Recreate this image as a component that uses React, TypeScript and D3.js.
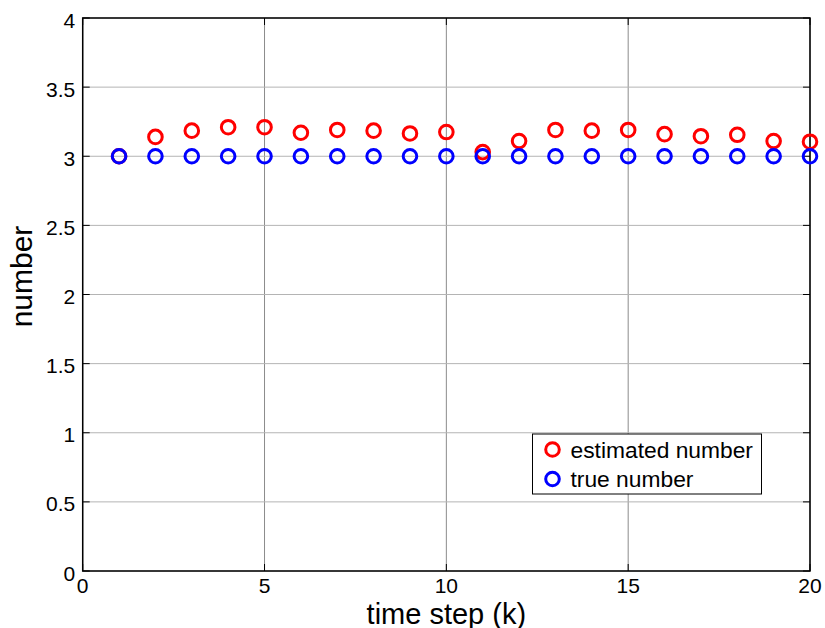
import React from "react";
import * as d3 from "d3";

const steps: number[] = [1, 2, 3, 4, 5, 6, 7, 8, 9, 10, 11, 12, 13, 14, 15, 16, 17, 18, 19, 20];
const estimated: number[] = [3.0, 3.14, 3.185, 3.21, 3.21, 3.17, 3.19, 3.185, 3.165, 3.175, 3.03, 3.11, 3.19, 3.185, 3.19, 3.16, 3.145, 3.155, 3.11, 3.105];
const trueNum: number[] = [3, 3, 3, 3, 3, 3, 3, 3, 3, 3, 3, 3, 3, 3, 3, 3, 3, 3, 3, 3];
const xTicks: number[] = [0, 5, 10, 15, 20];
const yTicks: number[] = [0, 0.5, 1, 1.5, 2, 2.5, 3, 3.5, 4];
const legendLabels: string[] = ["estimated number", "true number"];

const W = 825, H = 628;
const L = 82.7, R = 810, T = 18, B = 571;
const FONT = "'Liberation Sans', Arial, Helvetica, sans-serif";

export default function App() {
  const x = d3.scaleLinear().domain([0, 20]).range([L, R]);
  const y = d3.scaleLinear().domain([0, 4]).range([B, T]);
  const rad = 6.8, sw = 3;
  const tickLen = 7;
  return (
    <svg width={W} height={H} style={{ position: "absolute", left: 0, top: 0, background: "#fff" }} fontFamily={FONT}>
      <rect x={0} y={0} width={W} height={H} fill="#fff" />
      {/* grid */}
      {xTicks.map((t) => (
        <line key={"gx" + t} x1={x(t)} x2={x(t)} y1={T} y2={B} stroke="#8c8c8c" strokeWidth={1} />
      ))}
      {yTicks.map((t) => (
        <line key={"gy" + t} x1={L} x2={R} y1={y(t)} y2={y(t)} stroke="#b4b4b4" strokeWidth={1} />
      ))}
      {/* ticks */}
      {xTicks.map((t) => (
        <g key={"tx" + t}>
          <line x1={x(t)} x2={x(t)} y1={B} y2={B - tickLen} stroke="#000" strokeWidth={1} />
          <line x1={x(t)} x2={x(t)} y1={T} y2={T + tickLen} stroke="#000" strokeWidth={1} />
          <text x={x(t)} y={B + 21.5} fontSize={21} textAnchor="middle">{t}</text>
        </g>
      ))}
      {yTicks.map((t) => (
        <g key={"ty" + t}>
          <line x1={L} x2={L + tickLen} y1={y(t)} y2={y(t)} stroke="#000" strokeWidth={1} />
          <line x1={R} x2={R - tickLen} y1={y(t)} y2={y(t)} stroke="#000" strokeWidth={1} />
          <text x={L - 7.5} y={y(t) + 9.5} fontSize={21} textAnchor="end">{t}</text>
        </g>
      ))}
      {/* box */}
      <rect x={L} y={T} width={R - L} height={B - T} fill="none" stroke="#000" strokeWidth={1.5} />
      {/* data */}
      {steps.map((s, i) => (
        <circle key={"e" + s} cx={x(s)} cy={y(estimated[i])} r={rad} fill="none" stroke="#ff0000" strokeWidth={sw} />
      ))}
      {steps.map((s, i) => (
        <circle key={"t" + s} cx={x(s)} cy={y(trueNum[i])} r={rad} fill="none" stroke="#0000ff" strokeWidth={sw} />
      ))}
      {/* legend */}
      <rect x={532.5} y={434} width={229} height={60} fill="#fff" stroke="#000" strokeWidth={1} />
      {legendLabels.map((lab, i) => (
        <g key={lab}>
          <circle cx={552.5} cy={449.5 + i * 29.5} r={rad} fill="none" stroke={i === 0 ? "#ff0000" : "#0000ff"} strokeWidth={sw} />
          <text x={570.5} y={457.5 + i * 29.5} fontSize={22.8}>{lab}</text>
        </g>
      ))}
      {/* axis labels */}
      <text x={(L + R) / 2} y={623.5} fontSize={29} textAnchor="middle">time step (k)</text>
      <text transform={`translate(32,276.5) rotate(-90)`} fontSize={30} textAnchor="middle">number</text>
    </svg>
  );
}
